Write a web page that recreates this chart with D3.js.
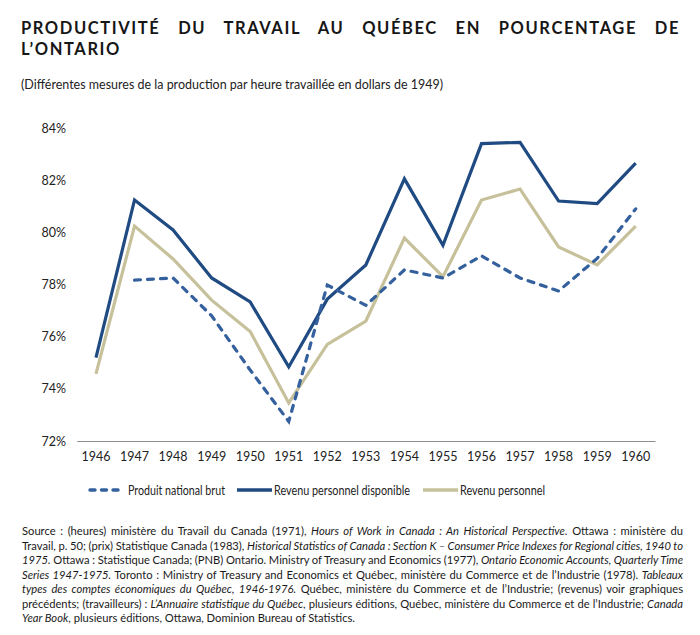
<!DOCTYPE html>
<html>
<head>
<meta charset="utf-8">
<script src="https://cdn.jsdelivr.net/npm/d3@7"></script>
<style>
  body { margin: 0; background: #fff; }
  svg text { font-family: Lato, "Open Sans", sans-serif; }
</style>
</head>
<body>
<div id="chart"></div>
<script>
// Data
var years = ["1946","1947","1948","1949","1950","1951","1952","1953","1954","1955","1956","1957","1958","1959","1960"];
var pnb = [null, 78.17, 78.25, 76.8, 74.72, 72.75, 77.98, 77.2, 78.56, 78.25, 79.1, 78.25, 77.75, 79.0, 80.9];
var revDisponible = [75.2, 81.24, 80.09, 78.25, 77.33, 74.84, 77.44, 78.75, 82.05, 79.5, 83.4, 83.45, 81.2, 81.1, 82.65];
var revPersonnel = [74.57, 80.24, 78.98, 77.4, 76.2, 73.46, 75.7, 76.6, 79.78, 78.3, 81.24, 81.66, 79.44, 78.75, 80.24];
var yTicks = [72, 74, 76, 78, 80, 82, 84];

var seriesNames = ["Produit national brut", "Revenu personnel disponible", "Revenu personnel"];

var svgWidth = 700;
var svgHeight = 635;

var svg = d3.select("#chart")
  .append("svg")
  .attr("width", svgWidth)
  .attr("height", svgHeight);

// Title, justified on the first line
var titleLines = ["PRODUCTIVITÉ DU TRAVAIL AU QUÉBEC EN POURCENTAGE DE", "L’ONTARIO"];
titleLines.forEach(function(line, i) {
  var t = svg.append("text")
    .attr("x", 21)
    .attr("y", 34 + i * 21)
    .attr("font-size", 16.5)
    .attr("font-weight", 700)
    .attr("letter-spacing", 1.6)
    .attr("fill", "#161616")
    .text(line);
  if (i === 0) {
    var w = t.node().getComputedTextLength();
    var spaces = line.split(" ").length - 1;
    t.attr("word-spacing", (659 - w) / spaces);
  }
});

svg.append("text")
  .attr("x", 21)
  .attr("y", 89)
  .attr("font-size", 13)
  .attr("fill", "#222")
  .attr("textLength", 422)
  .attr("lengthAdjust", "spacingAndGlyphs")
  .text("(Différentes mesures de la production par heure travaillée en dollars de 1949)");

// Scales
var x = d3.scaleBand()
  .domain(years)
  .range([76.7, 655]);

var y = d3.scaleLinear()
  .domain([72, 84])
  .range([441, 128]);

// Axes
var bottomAxis = d3.axisBottom(x).tickSize(0).tickPadding(11);
var leftAxis = d3.axisLeft(y).tickValues(yTicks).tickSize(0)
  .tickFormat(function(d) { return d + "%"; });

var xAxisG = svg.append("g")
  .attr("transform", "translate(0, 441)")
  .call(bottomAxis);
xAxisG.select(".domain").attr("stroke", "#8c8c8c").attr("stroke-width", 1.2);
xAxisG.selectAll("text").attr("font-size", 12.5).attr("fill", "#222")
  .attr("font-family", "Lato, sans-serif");

var yAxisG = svg.append("g")
  .attr("transform", "translate(66, 0)")
  .call(leftAxis);
yAxisG.select(".domain").remove();
yAxisG.selectAll("text").attr("font-size", 12.5).attr("fill", "#222")
  .attr("font-family", "Lato, sans-serif").attr("x", 0);

// Lines
var line = d3.line()
  .defined(function(d) { return d !== null; })
  .x(function(d, i) { return x(years[i]) + x.bandwidth() / 2; })
  .y(function(d) { return y(d); });

var styles = [
  { data: pnb, color: "#34609d", dash: "6 7", cap: "round" },
  { data: revDisponible, color: "#1f4a82", dash: null, cap: "butt" },
  { data: revPersonnel, color: "#c6c19b", dash: null, cap: "butt" }
];

// draw order: beige, dark, dashed on top
[2, 1, 0].forEach(function(k) {
  var s = styles[k];
  svg.append("path")
    .datum(s.data)
    .attr("fill", "none")
    .attr("stroke", s.color)
    .attr("stroke-width", 3.2)
    .attr("stroke-linejoin", "miter")
    .attr("stroke-linecap", s.cap)
    .attr("stroke-dasharray", s.dash)
    .attr("d", line);
});

// Legend
var legendItems = [
  { x0: 90, x1: 119, tx: 128, tw: 97 },
  { x0: 237, x1: 272, tx: 274, tw: 136 },
  { x0: 423, x1: 458, tx: 460, tw: 85 }
];
legendItems.forEach(function(it, k) {
  var s = styles[k];
  svg.append("line")
    .attr("x1", it.x0).attr("x2", it.x1)
    .attr("y1", 490).attr("y2", 490)
    .attr("stroke", s.color)
    .attr("stroke-width", 3.4)
    .attr("stroke-linecap", s.cap)
    .attr("stroke-dasharray", k === 0 ? "5 6.5" : null);
  svg.append("text")
    .attr("x", it.tx)
    .attr("y", 495)
    .attr("font-size", 14)
    .attr("fill", "#222")
    .attr("textLength", it.tw)
    .attr("lengthAdjust", "spacingAndGlyphs")
    .text(seriesNames[k]);
});

// Source note, justified line by line; [text, italic]
var sourceLines = [
  [["Source : (heures) ministère du Travail du Canada (1971), ", false], ["Hours of Work in Canada : An Historical Perspective.", true], [" Ottawa : ministère du", false]],
  [["Travail, p. 50; (prix) Statistique Canada (1983), ", false], ["Historical Statistics of Canada : Section K – Consumer Price Indexes for Regional cities, 1940 to", true]],
  [["1975.", true], [" Ottawa : Statistique Canada; (PNB) Ontario. Ministry of Treasury and Economics (1977), ", false], ["Ontario Economic Accounts, Quarterly Time", true]],
  [["Series 1947-1975.", true], [" Toronto : Ministry of Treasury and Economics et Québec, ministère du Commerce et de l’Industrie (1978). ", false], ["Tableaux", true]],
  [["types des comptes économiques du Québec, 1946-1976.", true], [" Québec, ministère du Commerce et de l’Industrie; (revenus) voir graphiques", false]],
  [["précédents; (travailleurs) : ", false], ["L’Annuaire statistique du Québec", true], [", plusieurs éditions, Québec, ministère du Commerce et de l’Industrie; ", false], ["Canada", true]],
  [["Year Book", true], [", plusieurs éditions, Ottawa, Dominion Bureau of Statistics.", false]]
];

sourceLines.forEach(function(parts, i) {
  var t = svg.append("text")
    .attr("x", 22)
    .attr("y", 535 + i * 14.5)
    .attr("font-size", 11.2)
    .attr("fill", "#1a1a1a")
    .attr("xml:space", "preserve");
  parts.forEach(function(p) {
    t.append("tspan")
      .attr("font-style", p[1] ? "italic" : "normal")
      .text(p[0]);
  });
  if (i < sourceLines.length - 1) {
    var w = t.node().getComputedTextLength();
    var full = parts.map(function(p) { return p[0]; }).join("");
    var spaces = full.split(" ").length - 1;
    t.attr("word-spacing", (661 - w) / spaces);
  }
});
</script>
</body>
</html>
